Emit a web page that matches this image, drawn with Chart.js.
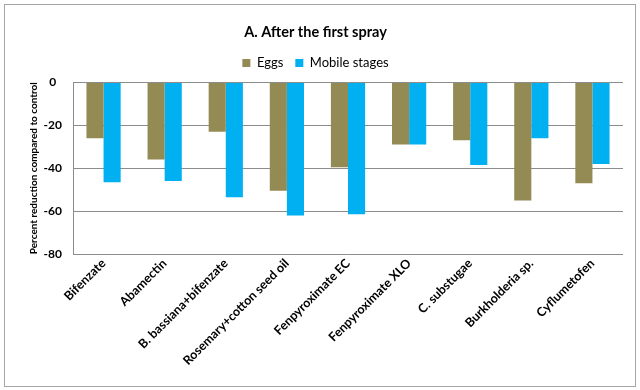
<!DOCTYPE html>
<html>
<head>
<meta charset="utf-8">
<script src="https://cdn.jsdelivr.net/npm/chart.js@4"></script>
<style>
  body { margin: 0; background: #fff; }
  #wrap { position: absolute; left: 0; top: 0; width: 640px; height: 390px; }
</style>
</head>
<body>
<div id="wrap"><canvas id="myChart"></canvas></div>
<script>
const categories = [
    'Bifenzate',
    'Abamectin',
    'B. bassiana+bifenzate',
    'Rosemary+cotton seed oil',
    'Fenpyroximate EC',
    'Fenpyroximate XLO',
    'C. substugae',
    'Burkholderia sp.',
    'Cyflumetofen'
];
const eggs = [-26, -36, -23, -50.5, -39.5, -29, -27, -55, -47];
const mobileStages = [-46.5, -46, -53.5, -62, -61.5, -29, -38.5, -26, -38];
const yTicks = [0, -20, -40, -60, -80];

const fontFamily = 'Lato, "Open Sans", sans-serif';

// frame round the whole chart, like the excel chart area border
const frame = {
    id: 'frame',
    beforeDraw(chart) {
        const c = chart.ctx;
        c.save();
        c.fillStyle = '#fff';
        c.fillRect(0, 0, chart.width, chart.height);
        c.strokeStyle = '#a6a6a6';
        c.lineWidth = 1;
        c.strokeRect(4.5, 4.5, 631, 382);
        c.restore();
    }
};

// a bit more room under the legend
const legendGap = {
    id: 'legendGap',
    beforeInit(chart) {
        const fit = chart.legend.fit;
        chart.legend.fit = function () {
            fit.bind(chart.legend)();
            this.height += 3;
        };
    }
};

var ctx = document.getElementById('myChart').getContext('2d');

var myChart = new Chart(ctx, {
    type: 'bar',
    data: {
        labels: categories,
        datasets: [{
            label: 'Eggs',
            data: eggs,
            backgroundColor: '#948A54',
            borderWidth: 0
        },
        {
            label: 'Mobile stages',
            data: mobileStages,
            backgroundColor: '#00B0F0',
            borderWidth: 0
        }]
    },
    options: {
        responsive: true,
        maintainAspectRatio: false,
        animation: false,
        layout: {
            padding: { left: 8, right: 17, top: 11, bottom: 5 }
        },
        datasets: {
            bar: { categoryPercentage: 0.56, barPercentage: 1.0 }
        },
        plugins: {
            title: {
                display: true,
                text: 'A. After the first spray',
                color: '#000',
                font: { family: fontFamily, size: 14.5, weight: 'bold' },
                padding: { top: 13, bottom: 3 }
            },
            legend: {
                position: 'top',
                labels: {
                    color: '#000',
                    font: { family: fontFamily, size: 13 },
                    boxWidth: 8,
                    boxHeight: 8,
                    padding: 12
                }
            },
            tooltip: { enabled: false }
        },
        scales: {
            x: {
                grid: { display: false, drawTicks: false },
                border: { display: false },
                ticks: {
                    color: '#000',
                    font: { family: fontFamily, size: 12.5, weight: 'bold' },
                    minRotation: 45,
                    maxRotation: 45,
                    padding: 2
                },
                afterFit: (scale) => { scale.height = 131; }
            },
            y: {
                min: -80,
                max: 0,
                afterBuildTicks: (scale) => {
                    scale.ticks = yTicks.map(v => ({ value: v }));
                },
                grid: { color: '#8c8c8c', lineWidth: 1, drawTicks: false },
                border: { display: true, color: '#8c8c8c' },
                ticks: {
                    color: '#000',
                    font: { family: fontFamily, size: 12, weight: 'bold' },
                    crossAlign: 'center',
                    padding: 11
                },
                title: {
                    display: true,
                    text: 'Percent reduction compared to control',
                    color: '#000',
                    font: { family: fontFamily, size: 10, weight: 'bold' },
                    padding: { top: 20, bottom: 0 }
                },
                afterFit: (scale) => { scale.width = 65; }
            }
        }
    },
    plugins: [frame, legendGap]
});
</script>
</body>
</html>
